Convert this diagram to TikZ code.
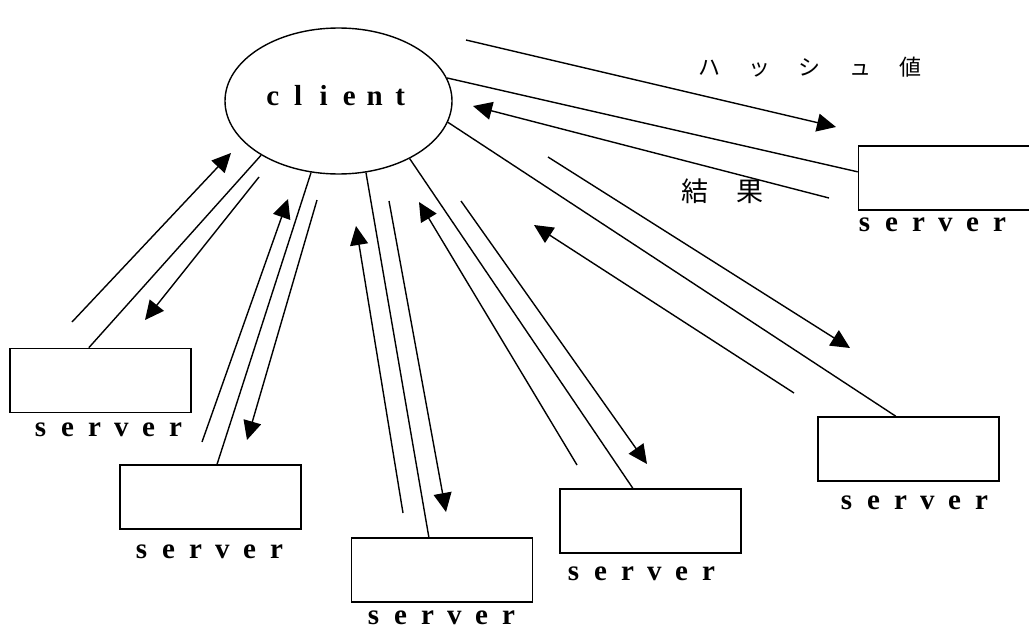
\documentclass[tikz,border=0pt]{standalone}
\usepackage{fontspec}
\setmainfont{Liberation Serif}
\newfontfamily\jpfont{Noto Sans CJK JP}
\usetikzlibrary{shapes.geometric,arrows.meta,calc}
\newcommand\lb[1]{\makebox[27pt][c]{#1}}
\newcommand\lc[1]{\makebox[25.5pt][c]{#1}}
\newcommand\jh[1]{\makebox[50.5pt][c]{#1}}
\newcommand\jr[1]{\makebox[55pt][c]{#1}}
\newcommand\srvtext{\lb{s}\lb{e}\lb{r}\lb{v}\lb{e}\lb{r}}
\begin{document}
\begin{tikzpicture}[x=1pt,y=-1pt,line width=1.4pt,
  srv/.style={draw, rectangle, minimum width=181pt, minimum height=64pt, inner sep=0pt, line width=1.6pt},
  lbl/.style={inner sep=0pt, font=\fontsize{29pt}{31pt}\selectfont\bfseries},
  jlbl/.style={inner sep=0pt, font=\jpfont\fontsize{22pt}{24pt}\selectfont},
  jlblbig/.style={inner sep=0pt, font=\jpfont\fontsize{27pt}{29pt}\selectfont},
  arr/.style={-{Triangle[length=19pt,width=18pt]}}]
\clip (0,0) rectangle (1029,629);
\fill[white] (0,0) rectangle (1029,629);

% client
\node[ellipse, draw, minimum width=227pt, minimum height=146pt, inner sep=0pt] (client) at (338.5,101) {};
\node[lbl] (clientlbl) at (336.5,96) {\lc{c}\lc{l}\lc{i}\lc{e}\lc{n}\lc{t}};

% servers
\node[srv] (s1) at (100.5,380.5) {};
\node[srv] (s2) at (210.5,497) {};
\node[srv] (s3) at (442,570) {};
\node[srv] (s4) at (650.5,521) {};
\node[srv] (s5) at (908.5,449) {};
\node[srv] (s6) at (949,178) {};

\node[lbl] (t1) at (108,430) {\srvtext};
\node[lbl] (t2) at (209,552) {\srvtext};
\node[lbl] (t3) at (441,618) {\srvtext};
\node[lbl] (t4) at (641,574) {\srvtext};
\node[lbl] (t5) at (914,502.5) {\srvtext};
\node[lbl] (t6) at (932,224.5) {\srvtext};

% japanese labels
\node[jlbl] (hash) at (810,67) {\jh{ハ}\jh{ッ}\jh{シ}\jh{ュ}\jh{値}};
\node[jlblbig] (result) at (722,191.5) {\jr{結}\jr{果}};

% direct connectors
\draw (client.215.6) -- ($(s1.north west)!0.436!(s1.north east)$);
\draw (client.249.1) -- ($(s2.north west)!0.536!(s2.north east)$);
\draw (client.291.6) -- ($(s3.north west)!0.428!(s3.north east)$);
\draw (client.321.6) -- ($(s4.north west)!0.403!(s4.north east)$);
\draw (client.349) -- ($(s5.north west)!0.43!(s5.north east)$);
\draw (client.12) -- ($(s6.north west)!0.406!(s6.south west)$);

% arrow end points
\coordinate (a1s) at (466,40);   \coordinate (a1e) at (836,127);
\coordinate (a2s) at (829,198);  \coordinate (a2e) at (473,106);
\coordinate (a3s) at (548,157);  \coordinate (a3e) at (850,348);
\coordinate (a4s) at (794,393);  \coordinate (a4e) at (534,225);
\coordinate (a5s) at (461,201);  \coordinate (a5e) at (647,464);
\coordinate (a6s) at (577,465);  \coordinate (a6e) at (419,202);
\coordinate (a7s) at (389,201);  \coordinate (a7e) at (446,512);
\coordinate (a8s) at (403,513);  \coordinate (a8e) at (356,226);
\coordinate (a9s) at (317,200);  \coordinate (a9e) at (247,440);
\coordinate (a10s) at (202,442); \coordinate (a10e) at (288,199);
\coordinate (a11s) at (259,177); \coordinate (a11e) at (145,320);
\coordinate (a12s) at (72,322);  \coordinate (a12e) at (231,153);

\foreach \i in {1,...,12}{\draw[arr] (a\i s) -- (a\i e);}
\end{tikzpicture}
\end{document}
